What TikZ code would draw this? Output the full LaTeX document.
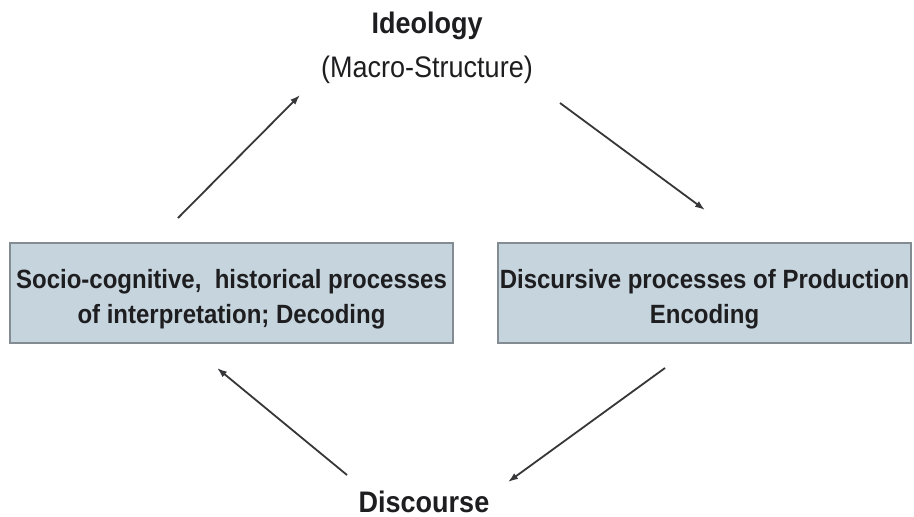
\documentclass[tikz,border=0pt]{standalone}
\usepackage{fontspec}
\usepackage{graphicx}
\setmainfont{Liberation Sans}
\usetikzlibrary{arrows.meta}
\definecolor{boxfill}{RGB}{197,212,221}
\definecolor{boxline}{RGB}{130,140,146}
\definecolor{txt}{RGB}{30,30,32}
\definecolor{arr}{RGB}{55,55,58}
\tikzset{
  procbox/.style={draw=boxline, line width=1.5pt, fill=boxfill, minimum height=100pt, inner sep=0pt},
  boxtext/.style={text=txt, font=\fontsize{24}{32}\selectfont\bfseries, inner sep=0pt},
  title/.style={text=txt, font=\fontsize{27}{30}\selectfont\bfseries, inner sep=0pt, anchor=base},
  sub/.style={text=txt, font=\fontsize{27}{30}\selectfont, inner sep=0pt, anchor=base},
  flow/.style={draw=arr, line width=1.8pt, -{Latex[length=10pt,width=7pt]}}
}
\newcommand{\tallbox}[1]{\scalebox{1}[1.1]{\begin{tabular}{@{}c@{}}#1\end{tabular}}}
\begin{document}
\begin{tikzpicture}[x=1pt,y=-1pt]
\useasboundingbox[fill=white] (0,0) rectangle (914,517);
\node[title] (ideo) at (427,33) {\scalebox{1}[1.1]{Ideology}};
\node[sub] (macro) at (427,77) {\scalebox{1}[1.1]{(Macro-Structure)}};
\node[title] (disc) at (424,512) {\scalebox{1}[1.1]{Discourse}};
\node[procbox, minimum width=443pt] (left) at (231.5,293) {};
\node[procbox, minimum width=413pt] (right) at (704.5,293) {};
\node[boxtext] (lefttxt) at ([yshift=-6pt]left.center) {\tallbox{Socio-cognitive,\ \ historical processes\\of interpretation; Decoding}};
\node[boxtext] (righttxt) at ([yshift=-6pt]right.center) {\tallbox{Discursive processes of Production\\Encoding}};
\coordinate (a1s) at (178,218);
\coordinate (a1e) at (300,95);
\coordinate (a2s) at (560,103);
\coordinate (a2e) at (705,210);
\coordinate (a3s) at (665,368);
\coordinate (a3e) at (508,482);
\coordinate (a4s) at (347,475);
\coordinate (a4e) at (217,368);
\draw[flow] (a1s) -- (a1e);
\draw[flow] (a2s) -- (a2e);
\draw[flow] (a3s) -- (a3e);
\draw[flow] (a4s) -- (a4e);
\end{tikzpicture}
\end{document}
